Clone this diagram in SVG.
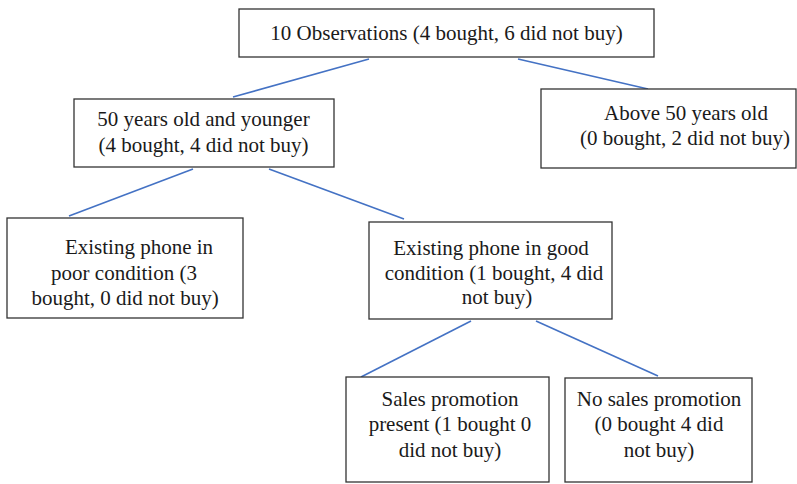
<svg xmlns="http://www.w3.org/2000/svg" width="797" height="484" viewBox="0 0 797 484">
<style>
.box{fill:#fff;stroke:#333;stroke-width:1.3}
.lbl{font-family:"Liberation Serif","Times New Roman",serif;font-size:21px;fill:#1a1a1a;text-anchor:middle}
.edge{stroke:#4472C4;stroke-width:1.6;fill:none}
</style>
<rect width="797" height="484" fill="#fff"/>
<g id="connectors">
<line class="edge" x1="369" y1="59" x2="233" y2="97"/>
<line class="edge" x1="518" y1="59" x2="648" y2="89"/>
<line class="edge" x1="193" y1="169" x2="69" y2="216"/>
<line class="edge" x1="269" y1="169" x2="404" y2="219"/>
<line class="edge" x1="471" y1="321" x2="361" y2="377"/>
<line class="edge" x1="536" y1="321" x2="658" y2="376"/>
</g>
<g id="root">
<rect class="box" x="239" y="9" width="415" height="48"/>
<text class="lbl" x="446.5" y="40">10 Observations (4 bought, 6 did not buy)</text>
</g>
<g id="young">
<rect class="box" x="74" y="99" width="260" height="68"/>
<text class="lbl" x="203.5" y="126">50 years old and younger</text>
<text class="lbl" x="203.5" y="152">(4 bought, 4 did not buy)</text>
</g>
<g id="old">
<rect class="box" x="541" y="89" width="255" height="79"/>
<text class="lbl" x="686" y="120">Above 50 years old</text>
<text class="lbl" x="685" y="145">(0 bought, 2 did not buy)</text>
</g>
<g id="poor">
<rect class="box" x="7" y="218" width="236" height="100"/>
<text class="lbl" x="139" y="254">Existing phone in</text>
<text class="lbl" x="124" y="280">poor condition (3</text>
<text class="lbl" x="125" y="305">bought, 0 did not buy)</text>
</g>
<g id="good">
<rect class="box" x="369" y="222" width="243" height="97"/>
<text class="lbl" x="491" y="255">Existing phone in good</text>
<text class="lbl" x="494" y="280">condition (1 bought, 4 did</text>
<text class="lbl" x="497" y="304">not buy)</text>
</g>
<g id="promo">
<rect class="box" x="346" y="377" width="203" height="105"/>
<text class="lbl" x="450" y="406">Sales promotion</text>
<text class="lbl" x="450" y="431">present (1 bought 0</text>
<text class="lbl" x="450" y="457">did not buy)</text>
</g>
<g id="nopromo">
<rect class="box" x="565" y="378" width="187" height="104"/>
<text class="lbl" x="659" y="406">No sales promotion</text>
<text class="lbl" x="659" y="431">(0 bought 4 did</text>
<text class="lbl" x="659" y="457">not buy)</text>
</g>
</svg>
